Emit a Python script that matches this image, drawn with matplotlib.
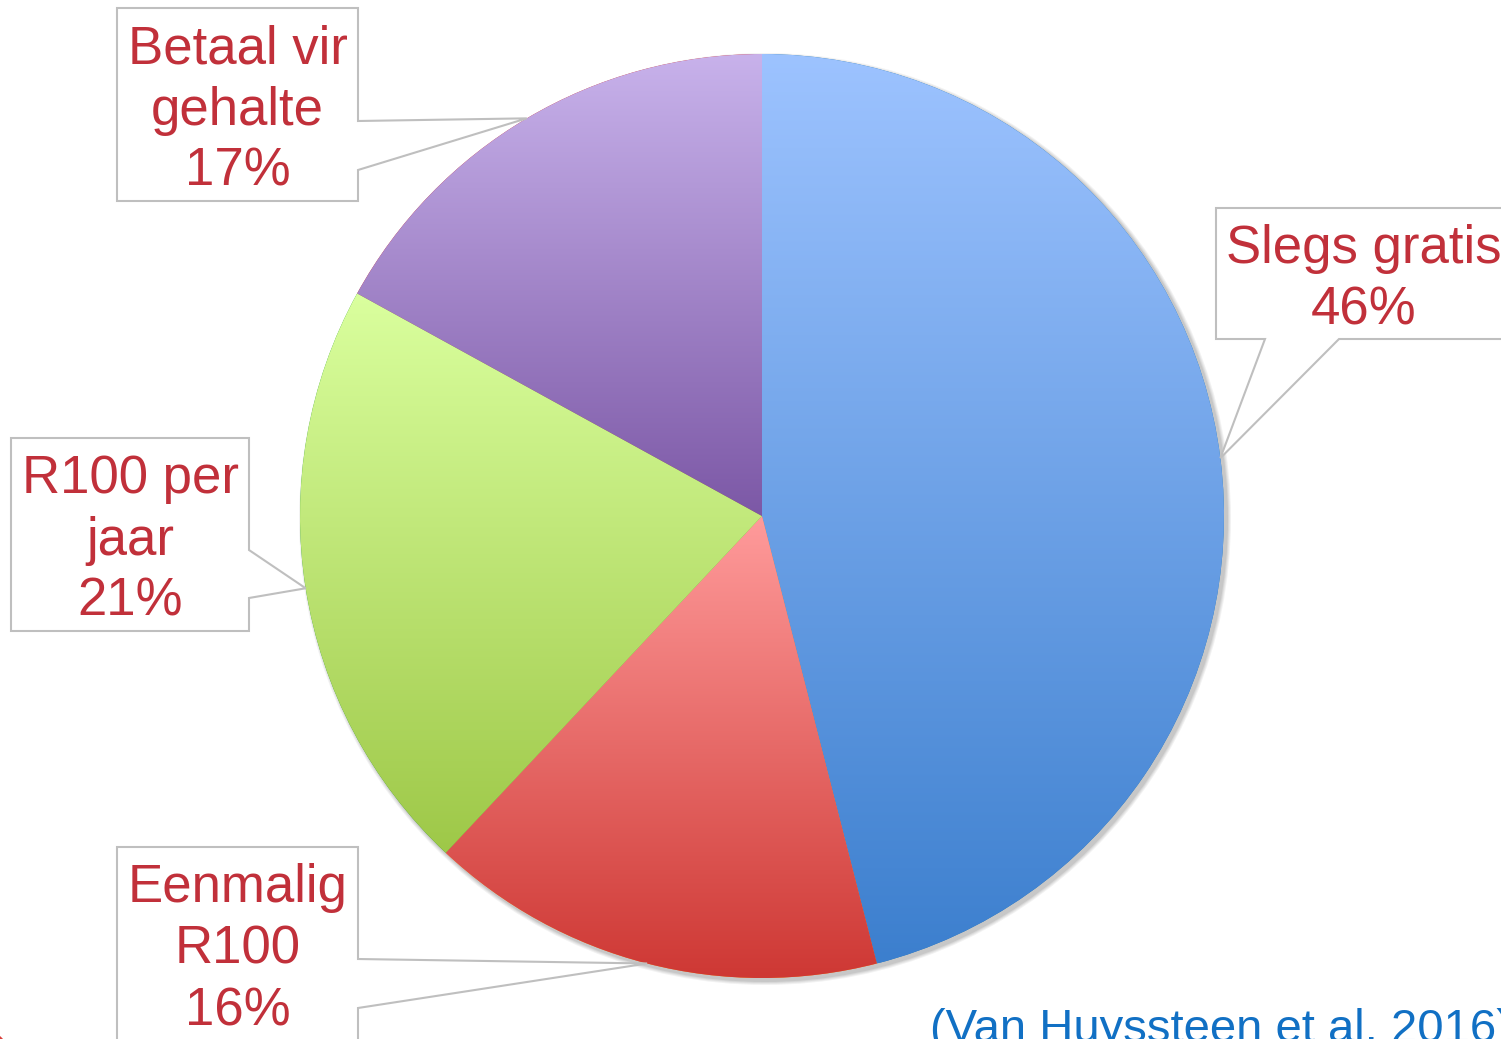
import matplotlib
matplotlib.use("Agg")
import matplotlib.pyplot as plt
from matplotlib.patches import Polygon, Circle
import numpy as np

# Data
categories = ["Slegs gratis", "Eenmalig\nR100", "R100 per\njaar", "Betaal vir\ngehalte"]
shares = [46, 16, 21, 17]
top_colors = [(157, 195, 255), (255, 155, 155), (218, 255, 158), (200, 178, 235)]
bottom_colors = [(60, 127, 206), (206, 56, 52), (158, 200, 72), (124, 88, 166)]
source_text = "(Van Huyssteen et al. 2016)"

# Layout (pixel coords, y measured from top)
W, H = 1501, 1039
cx, cy, rad = 762, 516, 462
# box x0, y0, x1, y1, notch side, notch start, notch end
boxes = [
    (1216, 208, 1540, 339, "bottom", 1265, 1339),
    (117, 847, 358, 1080, "right", 959, 1008),
    (11, 438, 249, 631, "right", 550, 598),
    (117, 8, 358, 201, "right", 121, 170),
]
text_red = "#c1303a"
edge_gray = "#bfbfbf"

fig = plt.figure(figsize=(W / 100, H / 100), dpi=100)
ax = fig.add_axes([0, 0, 1, 1])


def fy(y):
    return H - y


# soft shadow under the pie
for k, a in enumerate([0.05, 0.05, 0.06, 0.07]):
    ax.add_patch(Circle((cx + 3, fy(cy) - 3), rad + 4 - k, color="black", alpha=a, lw=0, zorder=1))

wedges, _ = ax.pie(shares, startangle=90, counterclock=False, center=(cx, fy(cy)), radius=rad,
                   wedgeprops=dict(linewidth=0))

# vertical gradient per slice, clipped to the wedge
for w, c0, c1 in zip(wedges, top_colors, bottom_colors):
    w.set_zorder(2)
    ext = w.get_path().get_extents()
    t = np.linspace(0, 1, 256)[:, None, None]
    grad = (np.array(c0)[None, None, :] * (1 - t) + np.array(c1)[None, None, :] * t) / 255.0
    im = ax.imshow(grad, extent=(ext.x0, ext.x1, ext.y0, ext.y1), origin="upper",
                   aspect="auto", interpolation="bilinear", zorder=3)
    im.set_clip_path(w)

# callout boxes with leader notches pointing at the slice edge
for w, cat, val, (x0, y0, x1, y1, side, n0, n1) in zip(wedges, categories, shares, boxes):
    mid = np.deg2rad((w.theta1 + w.theta2) / 2)
    tip = (cx + rad * np.cos(mid), fy(cy) + rad * np.sin(mid))
    if side == "right":
        pts = [(x0, fy(y0)), (x1, fy(y0)), (x1, fy(n0)), tip, (x1, fy(n1)), (x1, fy(y1)), (x0, fy(y1))]
    else:
        pts = [(x0, fy(y0)), (x1, fy(y0)), (x1, fy(y1)), (n1, fy(y1)), tip, (n0, fy(y1)), (x0, fy(y1))]
    ax.add_patch(Polygon(pts, closed=True, facecolor="white", edgecolor=edge_gray, lw=1.5, zorder=4))

    lines = (cat + "\n" + f"{val}%").split("\n")
    if side == "bottom":
        xc = 1364
    else:
        xc = (x0 + x1) / 2
    for i, line in enumerate(lines):
        ax.text(xc, fy(y0 + 55 + 61.5 * i), line, ha="center", va="baseline",
                fontsize=38, color=text_red, family="Liberation Sans", zorder=5)

ax.text(930, fy(1042), source_text, ha="left", va="baseline", fontsize=34,
        color="#1170c4", family="Liberation Sans", zorder=5)

# tiny bit of a red shape poking in at the lower-left corner
ax.add_patch(Circle((-14, fy(1053)), 22, color="#d9403c", lw=0, zorder=5))

ax.set_xlim(0, W)
ax.set_ylim(0, H)
ax.set_aspect("auto")
ax.axis("off")

fig.savefig("out.png", dpi=100)
